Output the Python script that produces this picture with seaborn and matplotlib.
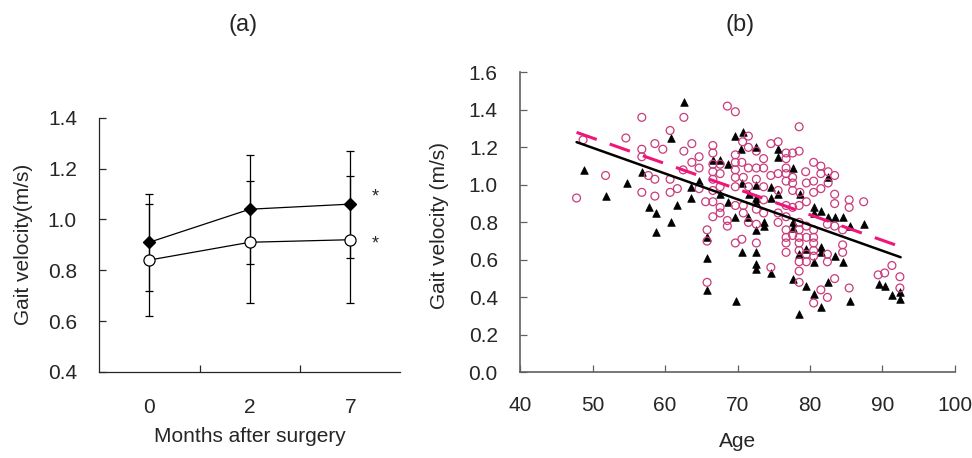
import numpy as np
import pandas as pd
import matplotlib
matplotlib.use("Agg")
import matplotlib.pyplot as plt
import seaborn as sns

# ---- panel (a): mean +/- SD at each follow-up ----
months = ["0", "2", "7"]
diamond_mean = [0.91, 1.04, 1.06]
diamond_sd = [0.19, 0.215, 0.21]
circle_mean = [0.84, 0.91, 0.92]
circle_sd = [0.22, 0.24, 0.25]

# ---- panel (b): individual points ----
circle_age = [47.8, 48.7, 51.8, 54.6, 56.8, 62.6, 68.6, 69.7, 60.7, 58.6, 59.7, 56.8, 56.8, 63.7, 62.6,
              64.7, 63.7, 57.7, 58.6, 60.7, 62.5, 64.7, 56.8, 58.6, 60.7, 61.7, 64.7, 65.6,
              66.6, 66.6, 66.6, 66.6, 66.6, 66.6, 66.6, 66.6, 65.8, 65.8, 65.8,
              67.6, 67.6, 67.6, 67.6, 67.6, 68.6, 68.6, 69.7, 70.6,
              70.7, 71.5, 71.5, 69.7, 69.7, 70.6, 69.7, 71.5, 69.7, 70.8, 69.7, 71.5, 69.7, 70.8, 70.8, 71.5,
              72.6, 72.6, 72.6, 72.6,
              78.5, 74.6, 75.6, 76.7, 77.6, 78.5, 73.6, 76.7, 72.6, 73.6, 76.7, 80.5, 81.5, 74.6, 75.6,
              76.7, 77.6, 79.4, 82.5, 83.4, 81.5, 73.6, 76.7, 77.6, 79.5, 80.5, 82.5, 81.5, 75.6, 77.6,
              78.6, 80.5, 83.4, 83.4, 85.4, 85.4, 87.4, 73.6, 76.7, 77.6, 78.5, 79.5, 82.4, 83.4, 84.5,
              72.6, 73.6, 75.6, 75.6, 76.7, 76.7, 76.7, 76.7, 76.7, 77.6, 78.5, 78.5, 78.5, 78.5, 78.5,
              78.5, 78.5, 79.5, 79.5, 79.5, 79.5, 80.5, 80.5, 80.5, 80.5, 80.5, 82.4, 82.4, 84.5, 84.5,
              74.6, 78.5, 80.5, 81.5, 82.4, 83.4, 85.4, 89.4, 90.3, 91.3, 92.4, 92.4]
circle_vel = [0.93, 1.24, 1.05, 1.25, 1.36, 1.36, 1.42, 1.39, 1.29, 1.22, 1.19, 1.19, 1.15, 1.22, 1.18,
              1.15, 1.12, 1.05, 1.03, 1.03, 1.08, 1.09, 0.96, 0.94, 0.96, 0.98, 0.98, 0.91,
              1.21, 1.17, 1.11, 1.07, 1.03, 0.97, 0.91, 0.83, 0.76, 0.70, 0.48,
              1.11, 1.06, 0.99, 0.85, 0.88, 0.81, 0.78, 0.69, 0.71,
              1.23, 1.26, 1.20, 1.16, 1.12, 1.12, 1.08, 1.09, 1.04, 1.04, 0.99, 0.99, 0.89, 0.89, 0.85, 0.80,
              1.18, 1.03, 0.79, 0.69,
              1.31, 1.22, 1.23, 1.17, 1.17, 1.18, 1.14, 1.14, 1.09, 1.09, 1.09, 1.12, 1.10, 1.05, 1.06,
              1.06, 1.04, 1.07, 1.07, 1.05, 1.06, 0.99, 1.02, 1.01, 1.01, 1.02, 1.01, 0.98, 0.97, 0.97,
              0.96, 0.96, 0.95, 0.90, 0.92, 0.88, 0.91, 0.92, 0.89, 0.88, 0.89, 0.91, 0.79, 0.78, 0.76,
              0.87, 0.85, 0.85, 0.80, 0.83, 0.76, 0.72, 0.69, 0.64, 0.73, 0.80, 0.76, 0.72, 0.69, 0.65,
              0.59, 0.54, 0.78, 0.72, 0.63, 0.59, 0.76, 0.72, 0.69, 0.65, 0.62, 0.63, 0.59, 0.68, 0.64,
              0.56, 0.48, 0.37, 0.44, 0.40, 0.50, 0.45, 0.52, 0.53, 0.57, 0.51, 0.45]

tri_age = [48.8, 51.8, 54.7, 62.6, 60.8, 56.8, 63.6, 57.8, 58.7, 61.7, 63.6, 60.8, 58.7, 64.7, 66.6,
           65.8, 65.8, 65.8, 69.8, 67.6, 67.6, 68.7, 68.7, 70.6, 69.7, 70.7, 70.5, 70.6, 71.6, 69.7,
           71.5, 72.6, 72.6, 72.6, 72.6, 72.6, 72.6, 75.6, 75.6, 77.6, 82.5, 72.6, 74.6, 75.6, 78.6,
           74.6, 72.6, 80.5, 80.5, 81.5, 82.5, 83.4, 84.5, 85.5, 87.4, 73.6, 73.6, 77.6, 77.6, 78.5,
           79.5, 80.5, 81.5, 81.5, 83.4, 84.5, 74.6, 77.6, 79.5, 80.5, 81.5, 82.5, 85.5, 78.5, 89.5,
           90.4, 91.3, 92.4, 92.4]
tri_vel = [1.08, 0.94, 1.01, 1.44, 1.25, 1.07, 0.99, 0.88, 0.85, 0.89, 0.93, 0.80, 0.75, 1.02, 1.13,
           0.72, 0.61, 0.44, 0.38, 1.13, 0.95, 1.11, 0.91, 0.64, 1.26, 1.28, 1.19, 1.01, 0.95, 0.83,
           0.83, 1.20, 0.93, 0.76, 0.64, 0.58, 0.55, 1.19, 1.15, 1.09, 1.04, 1.00, 0.99, 0.95, 0.95,
           0.93, 0.91, 0.88, 0.85, 0.86, 0.83, 0.83, 0.83, 0.78, 0.79, 0.80, 0.78, 0.80, 0.77, 0.63,
           0.66, 0.59, 0.67, 0.64, 0.62, 0.59, 0.53, 0.50, 0.46, 0.42, 0.35, 0.48, 0.38, 0.31, 0.47,
           0.46, 0.41, 0.39, 0.43]

# regression lines (end points)
fit_age = [47.8, 92.5]
fit_black = [1.228, 0.614]
fit_pink = [1.28, 0.67]

sns.set_style("ticks")
plt.rcParams["font.family"] = ["Liberation Sans", "DejaVu Sans"]
plt.rcParams["xtick.direction"] = "in"
plt.rcParams["ytick.direction"] = "in"

FS = 15

fig = plt.figure(figsize=(9.72, 4.58), dpi=100)
ax1 = fig.add_axes([0.102, 0.188, 0.31, 0.555])
ax2 = fig.add_axes([0.535, 0.187, 0.4475, 0.655])

# ---- (a) ----
xpos = np.arange(len(months))
ax1.errorbar(xpos, diamond_mean, yerr=diamond_sd, color="black", lw=0.9, elinewidth=0.9,
             capsize=3, capthick=0.9, marker="D", ms=6.5, mfc="black", mec="black", zorder=3)
ax1.errorbar(xpos, circle_mean, yerr=circle_sd, color="black", lw=0.9, elinewidth=0.9,
             capsize=3, capthick=0.9, marker="o", ms=8, mfc="white", mec="black", mew=0.9, zorder=4)
ax1.text(2.25, 1.09, "*", ha="center", va="center", fontsize=13)
ax1.text(2.25, 0.905, "*", ha="center", va="center", fontsize=13)
ax1.set_xlim(-0.5, 2.5)
ax1.set_ylim(0.4, 1.4)
ax1.set_yticks(np.arange(0.4, 1.41, 0.2))
ax1.set_yticklabels([f"{v:.1f}" for v in np.arange(0.4, 1.41, 0.2)])
ax1.set_xticks(xpos)
ax1.set_xticklabels(months)
ax1.tick_params(axis="x", length=0, pad=19)
ax1.set_xticks([0.5, 1.5], minor=True)
ax1.tick_params(axis="x", which="minor", length=5, width=0.9)
ax1.tick_params(axis="y", length=5, width=0.9, pad=16)
ax1.tick_params(labelsize=FS)
ax1.set_xlabel("Months after surgery", fontsize=FS, va="center")
ax1.xaxis.set_label_coords(0.5, -0.256)
ax1.set_ylabel("Gait velocity(m/s)", fontsize=FS, va="center")
ax1.yaxis.set_label_coords(-0.252, 0.5)
sns.despine(ax=ax1)
for s in ["left", "bottom"]:
    ax1.spines[s].set_linewidth(0.9)

# ---- (b) ----
sns.scatterplot(x=tri_age, y=tri_vel, ax=ax2, marker="^", s=30, color="black",
                edgecolor="black", linewidth=0.5, zorder=2)
sns.scatterplot(x=circle_age, y=circle_vel, ax=ax2, marker="o", s=32, facecolor="none",
                edgecolor="#c83c7c", linewidth=0.9, zorder=3)
sns.lineplot(x=fit_age, y=fit_pink, ax=ax2, color="#f0157a", lw=2.2,
             linestyle=(0, (7, 4.5)), zorder=4)
sns.lineplot(x=fit_age, y=fit_black, ax=ax2, color="black", lw=1.8, zorder=5)
ax2.set_xlim(40, 100)
ax2.set_ylim(0, 1.6)
ax2.set_xticks(np.arange(40, 101, 10))
ax2.set_yticks(np.arange(0, 1.61, 0.2))
ax2.set_yticklabels([f"{v:.1f}" for v in np.arange(0, 1.61, 0.2)])
ax2.tick_params(length=5, width=0.9, labelsize=FS, color="#606060")
ax2.tick_params(axis="x", pad=17)
ax2.tick_params(axis="y", pad=16)
ax2.set_xlabel("Age", fontsize=FS, va="center")
ax2.xaxis.set_label_coords(0.499, -0.232)
ax2.set_ylabel("Gait velocity (m/s)", fontsize=FS, va="center")
ax2.yaxis.set_label_coords(-0.184, 0.49)
sns.despine(ax=ax2)
for s in ["left", "bottom"]:
    ax2.spines[s].set_linewidth(1.2)
    ax2.spines[s].set_color("#606060")

fig.text(0.25, 0.945, "(a)", ha="center", va="center", fontsize=17)
fig.text(0.761, 0.945, "(b)", ha="center", va="center", fontsize=17)

fig.savefig("out.png", dpi=100)
